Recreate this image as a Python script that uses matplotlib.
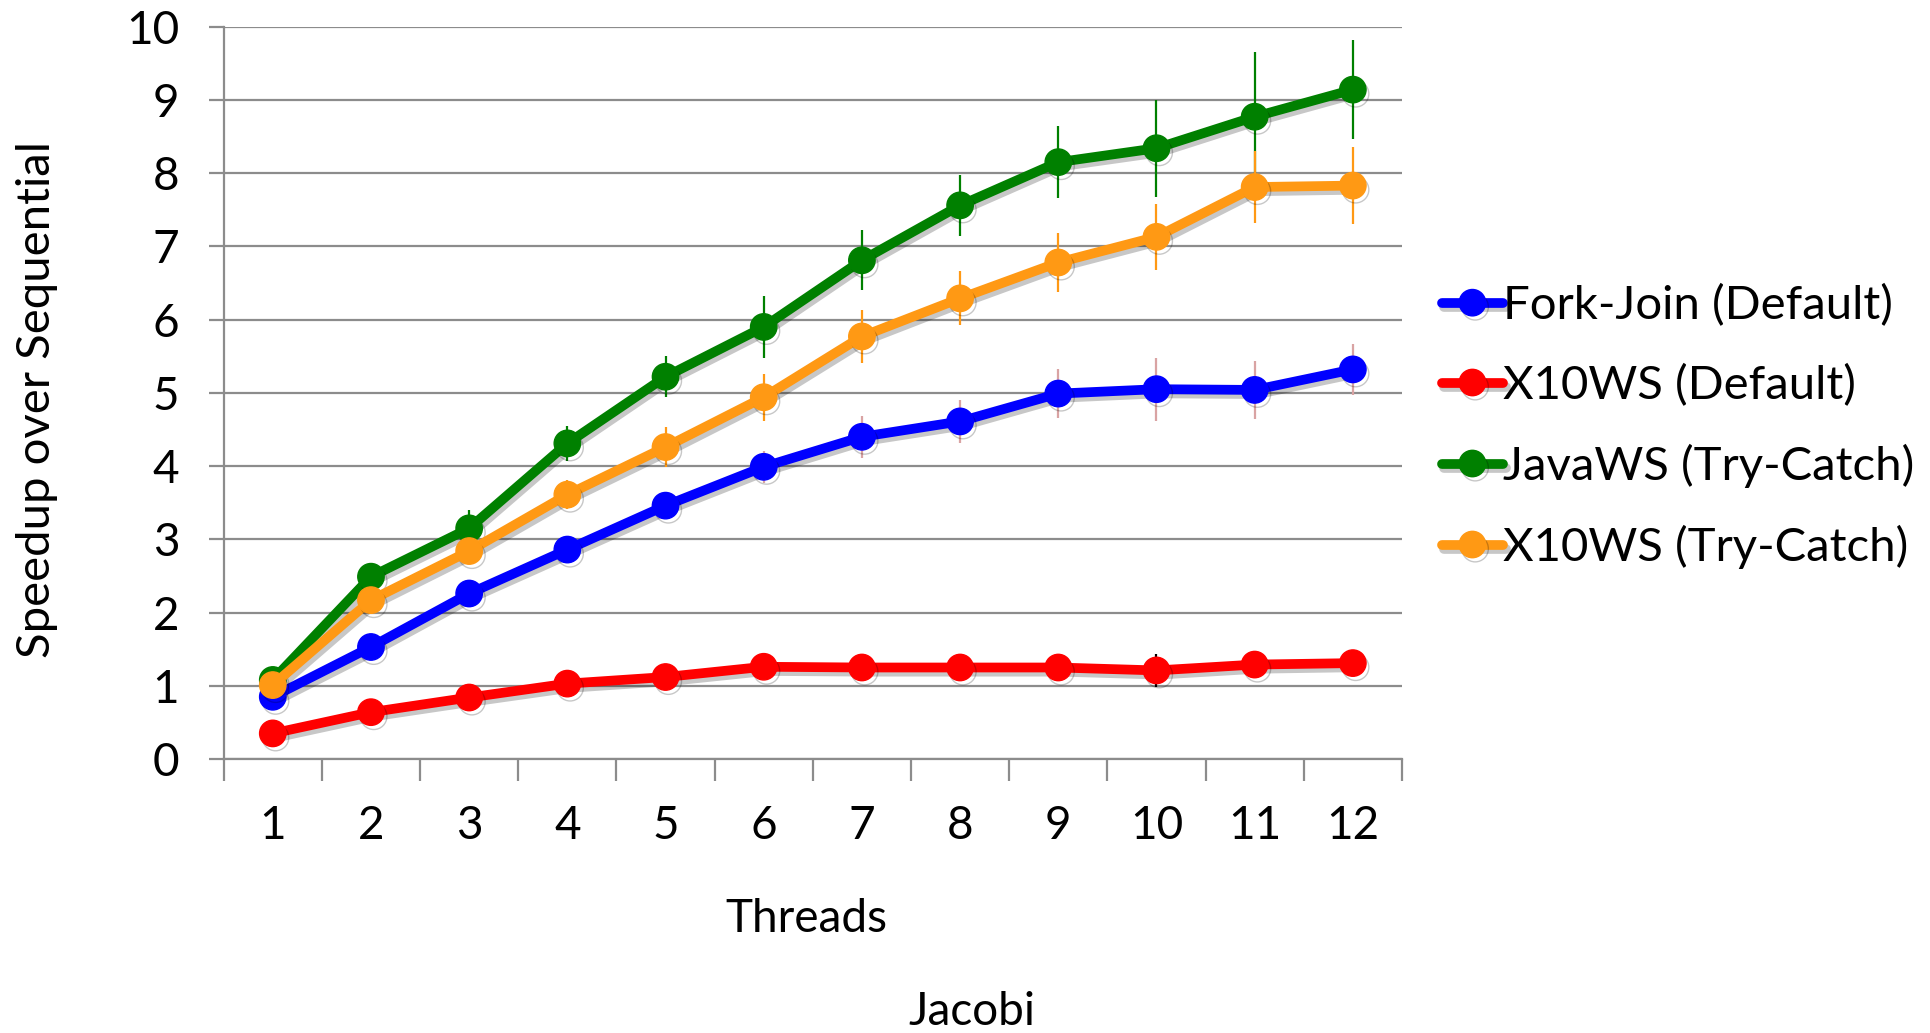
import matplotlib
matplotlib.use("Agg")
import matplotlib.pyplot as plt
import matplotlib.patheffects as pe
import numpy as np

plt.rcParams['font.family'] = ['Lato', 'DejaVu Sans']

threads = [1, 2, 3, 4, 5, 6, 7, 8, 9, 10, 11, 12]

fork_join = [0.85, 1.53, 2.26, 2.86, 3.46, 3.99, 4.40, 4.61, 4.99, 5.05, 5.04, 5.32]
fork_join_err = [0.05, 0.05, 0.08, 0.10, 0.12, 0.22, 0.29, 0.29, 0.33, 0.43, 0.40, 0.35]

x10_default = [0.35, 0.64, 0.84, 1.03, 1.12, 1.26, 1.25, 1.25, 1.25, 1.21, 1.29, 1.31]
x10_default_err = [0.02, 0.03, 0.03, 0.04, 0.04, 0.05, 0.05, 0.05, 0.05, 0.22, 0.06, 0.06]

javaws_tc = [1.08, 2.49, 3.15, 4.31, 5.22, 5.90, 6.81, 7.56, 8.15, 8.34, 8.77, 9.14]
javaws_tc_err = [0.05, 0.10, 0.25, 0.24, 0.28, 0.42, 0.41, 0.42, 0.49, 0.66, 0.88, 0.68]

x10_tc = [1.01, 2.17, 2.84, 3.61, 4.26, 4.94, 5.77, 6.29, 6.78, 7.13, 7.81, 7.83]
x10_tc_err = [0.05, 0.08, 0.12, 0.20, 0.27, 0.32, 0.36, 0.37, 0.40, 0.45, 0.49, 0.53]

series = [
    ("Fork-Join (Default)", fork_join, fork_join_err, "#0000ff", "#d9a3a3"),
    ("X10WS (Default)", x10_default, x10_default_err, "#ff0000", "#000000"),
    ("JavaWS (Try-Catch)", javaws_tc, javaws_tc_err, "#008000", "#008000"),
    ("X10WS (Try-Catch)", x10_tc, x10_tc_err, "#ff9914", "#ff9914"),
]

fig = plt.figure(figsize=(19.3, 10.33), dpi=100)
ax = fig.add_axes([0.1159, 0.2652, 0.7264 - 0.1159, 0.9742 - 0.2652])

grid_c = "#8c8c8c"
fs = 33

shadow = [pe.SimpleLineShadow(offset=(2, -3), shadow_color="k", alpha=0.22), pe.Normal()]

handles = []
for i, (name, vals, err, col, ecol) in enumerate(series):
    ax.errorbar(threads, vals, yerr=err, fmt="none", ecolor=ecol, elinewidth=1.6,
                capsize=0, zorder=3 + 2 * i)
    ln, = ax.plot(threads, vals, color=col, lw=7, marker="o", ms=19,
                  solid_capstyle="round", label=name, zorder=4 + 2 * i,
                  path_effects=shadow)
    handles.append(ln)

ax.set_xlim(0.5, 12.5)
ax.set_ylim(0, 10)
ax.set_yticks(np.arange(0, 11, 1))
ax.yaxis.grid(True, color=grid_c, lw=1.6)
ax.set_axisbelow(True)

ax.set_xticks(threads)
ax.set_xticklabels([str(t) for t in threads])
ax.set_xticks(np.arange(0.5, 13, 1), minor=True)
ax.tick_params(axis="x", which="major", length=0, pad=33, labelsize=fs)
ax.tick_params(axis="x", which="minor", length=16, width=1.6, color=grid_c, direction="out")
ax.tick_params(axis="y", length=11, width=1.6, color=grid_c, pad=21, labelsize=fs)

for s in ["top", "right"]:
    ax.spines[s].set_visible(False)
for s in ["left", "bottom"]:
    ax.spines[s].set_color(grid_c)
    ax.spines[s].set_linewidth(1.6)

fig.text(0.019, 0.6137, "Speedup over Sequential", rotation=90, ha="center", va="center", fontsize=34)
fig.text(0.4176, 0.0978, "Threads", ha="center", va="baseline", fontsize=fs)
fig.text(0.5036, 0.0077, "Jacobi", ha="center", va="baseline", fontsize=fs)

fig.legend(handles=handles, loc="center left", bbox_to_anchor=(0.747, 0.5870),
           frameon=False, fontsize=34, handlelength=1.3, handletextpad=0.0,
           borderpad=0, labelspacing=0.78, borderaxespad=0)

fig.savefig("out.png", dpi=100)
